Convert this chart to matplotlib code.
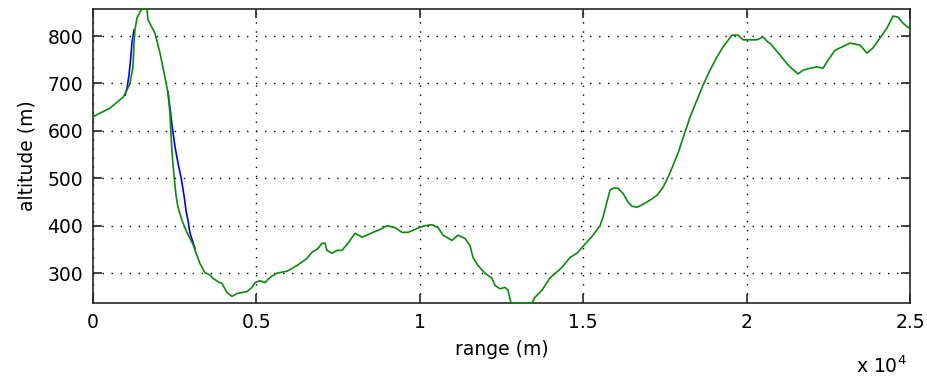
import matplotlib.pyplot as plt

# terrain profile along the path (range in m, altitude in m)
range_m = [0, 520, 918, 1040, 1130, 1224, 1255, 1285, 1346, 1440, 1500, 1652, 1683,
           1897, 2050, 2203, 2295, 2356, 2387, 2418, 2479, 2540, 2601, 2723, 2846,
           2968, 3060, 3182, 3274, 3427, 3580, 3672, 3825, 3947, 4100, 4253, 4406,
           4712, 4865, 4957, 5110, 5263, 5416, 5630, 5936, 6242, 6548, 6701, 6885,
           7007, 7099, 7160, 7313, 7466, 7619, 7803, 8017, 8231, 8384, 8568, 8782,
           8996, 9241, 9455, 9639, 9853, 10006, 10159, 10373, 10557, 10710, 10985,
           11169, 11383, 11536, 11628, 11781, 11995, 12209, 12301, 12454, 12607,
           12699, 12791, 13433, 13525, 13739, 13984, 14351, 14596, 14810, 14963,
           15300, 15514, 15606, 15728, 15820, 15912, 16065, 16218, 16371, 16493,
           16646, 16830, 17044, 17258, 17442, 17595, 17748, 17901, 18054, 18268,
           18482, 18666, 18880, 19094, 19278, 19553, 19737, 19890, 20318, 20502,
           20655, 20716, 21022, 21267, 21573, 21726, 21940, 22154, 22338, 22491,
           22705, 22919, 23164, 23470, 23684, 23868, 24082, 24296, 24480, 24633,
           24786, 25000]
altitude_m = [630, 648, 671, 686, 700, 735, 785, 813, 838, 851, 857, 857, 834,
              806, 764, 713, 680, 637, 595, 553, 506, 464, 439, 411, 390,
              373, 361, 337, 320, 301, 296, 289, 282, 278, 259, 251, 257,
              261, 270, 280, 284, 280, 291, 300, 304, 316, 331, 344, 352,
              363, 363, 348, 342, 348, 348, 363, 384, 376, 380, 386, 392,
              400, 396, 386, 386, 392, 397, 400, 402, 396, 380, 369,
              380, 373, 358, 333, 316, 300, 289, 274, 267, 270,
              264, 237, 237, 249, 264, 290, 312, 333, 342, 354,
              380, 400, 418, 450, 475, 479, 479, 468, 450, 441,
              439, 445, 454, 464, 481, 502, 527, 553, 585, 629,
              665, 696, 728, 756, 777, 802, 802, 792, 792, 798,
              787, 785, 760, 739, 720, 728, 732, 735, 732, 749,
              770, 777, 785, 781, 764, 775, 796, 817, 842, 840,
              827, 815]

# second profile, only where it departs from the first
alt_rise_range = [979, 1040, 1102, 1163, 1193, 1255]
alt_rise_alt = [675, 690, 718, 760, 787, 813]
alt_fall_range = [2295, 2356, 2418, 2510, 2601, 2693, 2785, 2846, 2907, 2968, 3060, 3121]
alt_fall_alt = [682, 648, 612, 566, 532, 502, 464, 432, 411, 384, 365, 352]

x_ticks = [0, 5000, 10000, 15000, 20000, 25000]
x_tick_labels = ['0', '0.5', '1', '1.5', '2', '2.5']
y_ticks = [300, 400, 500, 600, 700, 800]

fig = plt.figure(figsize=(9.27, 3.79), dpi=100)
ax = fig.add_axes([93 / 927, 1 - 303 / 379, 817 / 927, 294 / 379])

ax.plot(alt_rise_range, alt_rise_alt, color='#0000ff', linewidth=1.2)
ax.plot(alt_fall_range, alt_fall_alt, color='#0000ff', linewidth=1.2)
# drawn unclipped and above the frame so the stretch on the lower limit shows
ax.plot(range_m, altitude_m, color='#0a8a0a', linewidth=1.2, clip_on=False, zorder=3)

ax.set_xlim(0, 25000)
ax.set_ylim(237, 857)
ax.set_xticks(x_ticks)
ax.set_xticklabels(x_tick_labels)
ax.set_yticks(y_ticks)

ax.grid(True, color='black', linestyle=(0, (1, 5.5)), linewidth=1.0)
ax.tick_params(direction='in', top=True, right=True, length=6.5, width=1.2,
               color='#262626', labelsize=13.5, pad=7)
for side in ax.spines.values():
    side.set_linewidth(1.2)
    side.set_color('#262626')

ax.set_xlabel('range (m)', fontsize=13.5, labelpad=6)
ax.set_ylabel('altitude (m)', fontsize=13.5, labelpad=8)
fig.text(907 / 927, 2 / 379, 'x 10$^{4}$', fontsize=13.5, ha='right', va='bottom')

fig.savefig('out.png', dpi=100)
